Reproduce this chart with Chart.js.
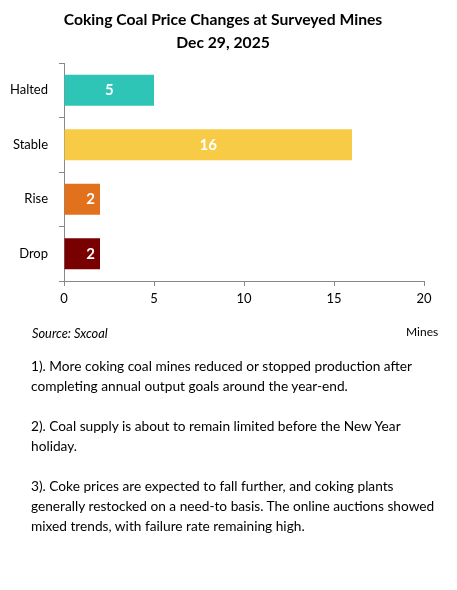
<!DOCTYPE html>
<html>
<head>
<meta charset="utf-8">
<script src="https://cdn.jsdelivr.net/npm/chart.js@4.4.0/dist/chart.umd.min.js"></script>
<style>
  body { margin: 0; background: #fff; font-family: Lato, "Noto Sans", sans-serif; color: #000; }
  #wrap { position: relative; width: 457px; height: 340px; }
  #source { position: absolute; left: 32px; top: 325px; font-size: 12.8px; font-style: italic; }
  #unit { position: absolute; left: 406px; top: 324px; font-size: 12px; }
  #notes { position: absolute; left: 31px; top: 356px; font-size: 13.7px; line-height: 20px; white-space: nowrap; }
  #notes p { margin: 0 0 20px 0; }
</style>
</head>
<body>
<div id="wrap">
  <canvas id="grafico" width="457" height="340"></canvas>
  <div id="source">Source: Sxcoal</div>
  <div id="unit">Mines</div>
</div>
<div id="notes">
  <p>1). More coking coal mines reduced or stopped production after<br>completing annual output goals around the year-end.</p>
  <p>2). Coal supply is about to remain limited before the New Year<br>holiday.</p>
  <p>3). Coke prices are expected to fall further, and coking plants<br>generally restocked on a need-to basis. The online auctions showed<br>mixed trends, with failure rate remaining high.</p>
</div>
<script>
const categorias = ['Halted', 'Stable', 'Rise', 'Drop'];
const minas = [5, 16, 2, 2];
const colores = ['#2EC4B6', '#F7CB45', '#E2711D', '#780000'];
const titulo = ['Coking Coal Price Changes at Surveyed Mines', 'Dec 29, 2025'];
const fuente = 'Lato, "Noto Sans", sans-serif';

// Título de dos líneas centrado en la página
const tituloPlugin = {
    id: 'tituloPlugin',
    afterDraw(chart) {
        const ctx = chart.ctx;
        ctx.save();
        ctx.fillStyle = '#000';
        ctx.font = 'bold 15.7px ' + fuente;
        ctx.textAlign = 'center';
        ctx.textBaseline = 'middle';
        titulo.forEach((linea, i) => ctx.fillText(linea, 223, 20 + i * 23));
        ctx.restore();
    }
};

// Etiquetas de valor dentro de las barras
const etiquetas = {
    id: 'etiquetas',
    afterDatasetsDraw(chart) {
        const ctx = chart.ctx;
        const meta = chart.getDatasetMeta(0);
        ctx.save();
        ctx.fillStyle = '#fff';
        ctx.font = 'bold 15px ' + fuente;
        ctx.textBaseline = 'middle';
        meta.data.forEach((bar, i) => {
            const ancho = bar.x - bar.base;
            if (ancho < 50) {
                ctx.textAlign = 'right';
                ctx.fillText(minas[i], bar.x - 5, bar.y);
            } else {
                ctx.textAlign = 'center';
                ctx.fillText(minas[i], (bar.x + bar.base) / 2, bar.y);
            }
        });
        ctx.restore();
    }
};

new Chart(document.getElementById('grafico').getContext('2d'), {
    type: 'bar',
    data: {
        labels: categorias,
        datasets: [{
            data: minas,
            backgroundColor: colores,
            borderWidth: 0,
            categoryPercentage: 1,
            barPercentage: 0.57
        }]
    },
    options: {
        indexAxis: 'y',
        responsive: false,
        animation: false,
        layout: { padding: { top: 63, right: 33, bottom: 0, left: 0 } },
        plugins: {
            legend: { display: false },
            tooltip: { enabled: false },
            title: { display: false }
        },
        scales: {
            x: {
                min: 0,
                max: 20,
                ticks: { stepSize: 5, color: '#000', font: { family: fuente, size: 13 }, padding: 5 },
                grid: { drawOnChartArea: false, tickLength: 5, color: '#888' },
                border: { color: '#888' },
                afterFit: (scale) => { scale.height = 59; }
            },
            y: {
                ticks: { color: '#000', font: { family: fuente, size: 13 }, padding: 11 },
                grid: { drawOnChartArea: false, tickLength: 5, color: '#888', offset: true },
                border: { color: '#888' },
                afterFit: (scale) => { scale.width = 64; }
            }
        }
    },
    plugins: [etiquetas, tituloPlugin]
});
</script>
</body>
</html>
